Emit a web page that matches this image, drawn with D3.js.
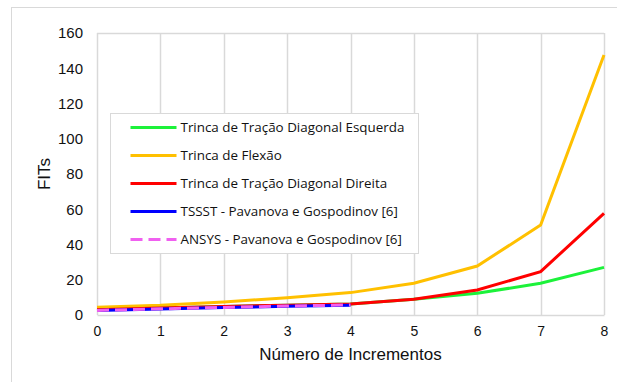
<!DOCTYPE html>
<html>
<head>
<meta charset="utf-8">
<script src="https://cdn.jsdelivr.net/npm/d3@7"></script>
<style>
  html, body { margin: 0; padding: 0; background: #fff; }
  svg { display: block; }
</style>
</head>
<body>
<div id="chart"></div>
<script>
// x categories (increments)
var increments = [0, 1, 2, 3, 4, 5, 6, 7, 8];
var yTicks = [0, 20, 40, 60, 80, 100, 120, 140, 160];

// series values
var esquerda = [3, 4, 4.8, 5.6, 6.3, 9, 12.3, 18, 27];
var flexao = [4.4, 5.5, 7.4, 9.8, 12.7, 18, 27.8, 51, 147.5];
var direita = [3, 4, 4.8, 5.6, 6.2, 9, 14.2, 24.6, 57.7];
var tssst = [2.5, 3.4, 4.2, 5, 5.6];
var ansys = [2.6, 3.5, 4.3, 5.1, 5.7];

var seriesNames = [
    "Trinca de Tração Diagonal Esquerda",
    "Trinca de Flexão",
    "Trinca de Tração Diagonal Direita",
    "TSSST - Pavanova e Gospodinov [6]",
    "ANSYS - Pavanova e Gospodinov [6]"
];

var series = [
    {name: seriesNames[0], values: esquerda, color: "#1cf23a", dash: null},
    {name: seriesNames[1], values: flexao, color: "#ffc000", dash: null},
    {name: seriesNames[2], values: direita, color: "#ff0000", dash: null},
    {name: seriesNames[3], values: tssst, color: "#0000ff", dash: null},
    {name: seriesNames[4], values: ansys, color: "#f060f0", dash: "12,6"}
];

var width = 617, height = 382;
var margin = {top: 33, right: 13, bottom: 67, left: 97};
var plotW = width - margin.left - margin.right;
var plotH = height - margin.top - margin.bottom;

var svg = d3.select("#chart").append("svg")
    .attr("width", width)
    .attr("height", height);

// outer chart frame (clipped on the right and bottom like the picture)
svg.append("rect")
    .attr("x", 11.5).attr("y", 7.5)
    .attr("width", 620).attr("height", 400)
    .attr("fill", "#fff")
    .attr("stroke", "#d9d9d9");

var g = svg.append("g")
    .attr("transform", "translate(" + margin.left + "," + margin.top + ")");

var x = d3.scaleLinear().domain([0, 8]).range([0, plotW]);
var y = d3.scaleLinear().domain([0, 160]).range([plotH, 0]);

// vertical gridlines
g.append("g")
    .selectAll("line")
    .data(increments)
    .enter().append("line")
    .attr("x1", function (d) { return Math.round(x(d)) + 0.5; })
    .attr("x2", function (d) { return Math.round(x(d)) + 0.5; })
    .attr("y1", 0)
    .attr("y2", plotH)
    .attr("stroke", "#d9d9d9")
    .attr("stroke-width", 1.5);

// top border of plot area
g.append("line")
    .attr("x1", 0).attr("x2", plotW)
    .attr("y1", 0.5).attr("y2", 0.5)
    .attr("stroke", "#d9d9d9").attr("stroke-width", 1.5);

// y axis labels
g.append("g")
    .attr("transform", "translate(-14,0)")
    .call(d3.axisLeft(y).tickValues(yTicks).tickSize(0).tickPadding(0))
    .call(function (a) { a.select(".domain").remove(); })
    .selectAll("text")
    .attr("font-family", "'Liberation Sans', Arial, sans-serif")
    .attr("font-size", "15px")
    .attr("fill", "#111");

// x axis
g.append("g")
    .attr("transform", "translate(0," + plotH + ")")
    .call(d3.axisBottom(x).tickValues(increments).tickSize(0).tickPadding(11))
    .call(function (a) {
        a.select(".domain").attr("stroke", "#d9d9d9").attr("stroke-width", 1.5);
    })
    .selectAll("text")
    .attr("font-family", "'Liberation Sans', Arial, sans-serif")
    .attr("font-size", "14px")
    .attr("fill", "#111");

// axis titles
svg.append("text")
    .attr("x", margin.left + plotW / 2)
    .attr("y", 360)
    .attr("text-anchor", "middle")
    .attr("font-family", "'Liberation Sans', Arial, sans-serif")
    .attr("font-size", "17px")
    .attr("fill", "#111")
    .text("Número de Incrementos");

svg.append("text")
    .attr("transform", "translate(50," + (margin.top + plotH / 2) + ") rotate(-90)")
    .attr("text-anchor", "middle")
    .attr("font-family", "'Liberation Sans', Arial, sans-serif")
    .attr("font-size", "17px")
    .attr("fill", "#111")
    .text("FITs");

// legend box
var legend = svg.append("g").attr("transform", "translate(110.5,113.5)");
legend.append("rect")
    .attr("width", 308).attr("height", 140)
    .attr("fill", "#fff")
    .attr("stroke", "#d9d9d9");

var line = d3.line()
    .x(function (d, i) { return x(increments[i]); })
    .y(function (d) { return y(d); });

// draw the series lines
g.selectAll(".series")
    .data(series)
    .enter().append("path")
    .attr("class", "series")
    .attr("d", function (d) { return line(d.values); })
    .attr("fill", "none")
    .attr("stroke", function (d) { return d.color; })
    .attr("stroke-width", 3)
    .attr("stroke-dasharray", function (d) { return d.dash; });

// legend entries
var items = legend.selectAll(".item")
    .data(series)
    .enter().append("g")
    .attr("class", "item")
    .attr("transform", function (d, i) { return "translate(0," + (14 + i * 28) + ")"; });

items.append("line")
    .attr("x1", 20).attr("x2", 66)
    .attr("y1", 0).attr("y2", 0)
    .attr("stroke", function (d) { return d.color; })
    .attr("stroke-width", 3)
    .attr("stroke-dasharray", function (d) { return d.dash; });

items.append("text")
    .attr("x", 70)
    .attr("y", 0)
    .attr("dy", "0.35em")
    .attr("font-family", "'Open Sans', sans-serif")
    .attr("font-size", "13.4px")
    .attr("fill", "#111")
    .text(function (d) { return d.name; });
</script>
</body>
</html>
